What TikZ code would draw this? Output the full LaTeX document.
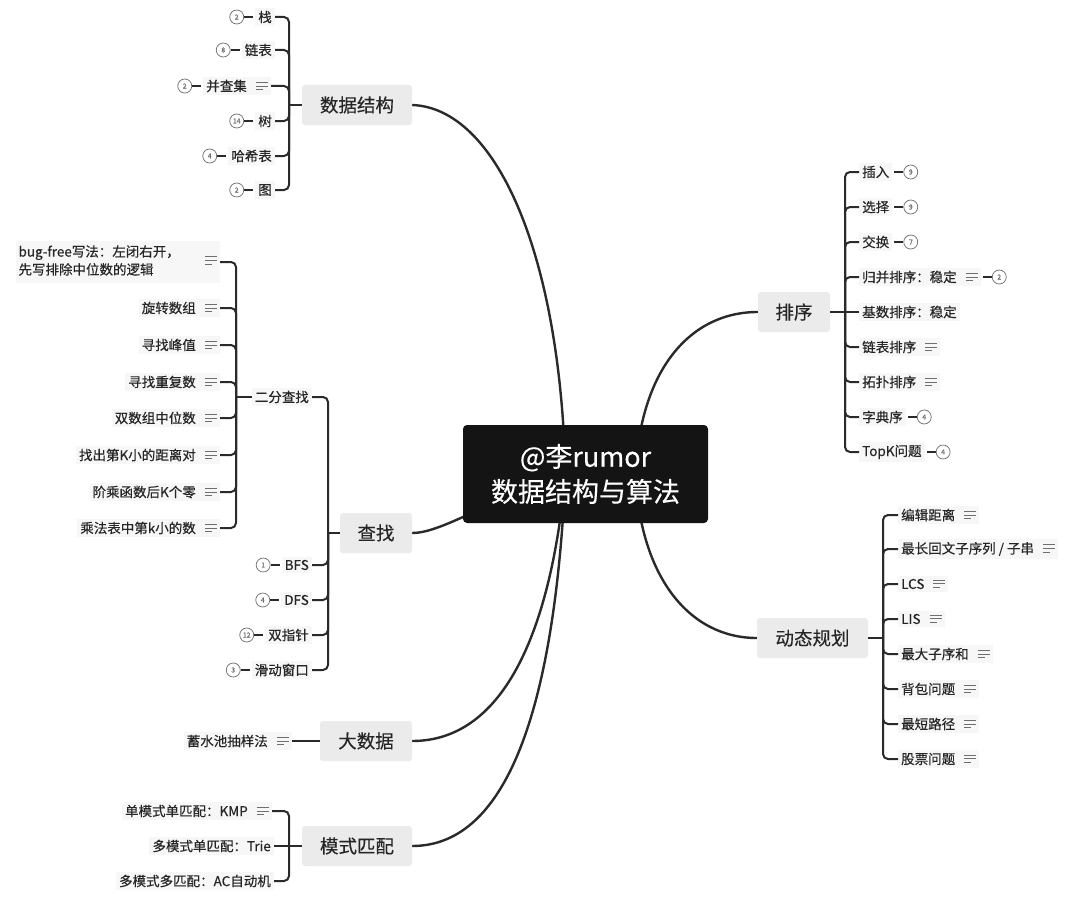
\documentclass[tikz,border=0pt]{standalone}
\usepackage{fontspec}
\setmainfont{Noto Sans CJK SC}[FakeBold=0.35]
\usetikzlibrary{positioning,backgrounds}
\definecolor{linec}{HTML}{2A2A2A}
\definecolor{topicfill}{HTML}{EBEBEB}
\definecolor{leaffill}{HTML}{F7F7F7}
\definecolor{iconc}{HTML}{6E6E6E}
\definecolor{centerfill}{HTML}{141414}
\definecolor{txt}{HTML}{262626}
\newcommand\noteicon{\hspace{9pt}\raisebox{1pt}{\color{iconc}\vbox{\hrule width 12pt height 1pt\vskip 2.6pt\hrule width 12pt height 1pt\vskip 2.6pt\hrule width 7pt height 1pt}}}
\begin{document}
\begin{tikzpicture}[x=1pt,y=-1pt,
  trunk/.style={draw=linec, line width=2.4pt, line cap=round},
  branch/.style={draw=linec, line width=2pt, rounded corners=5pt},
  badgeline/.style={draw=linec, line width=2pt, shorten >=2pt},
  topic/.style={fill=topicfill, rounded corners=3pt, minimum height=40pt, font=\fontsize{18.5}{20}\selectfont, text=txt, inner sep=0pt},
  centernode/.style={fill=centerfill, rounded corners=4pt, minimum width=245pt, minimum height=98pt, font=\fontsize{27}{35}\selectfont, text=white, align=center, inner sep=0pt},
  leafL/.style={anchor=east, font=\fontsize{13.5}{18}\selectfont, text=txt, inner xsep=3pt, inner ysep=3pt, fill=leaffill},
  leafR/.style={anchor=west, font=\fontsize{13.5}{18}\selectfont, text=txt, inner xsep=3pt, inner ysep=3pt, fill=leaffill},
  badge/.style={circle, draw=iconc, line width=0.7pt, minimum size=14pt, inner sep=0pt, font=\fontsize{7}{7}\selectfont, text=iconc, fill=white}
]
\useasboundingbox (0,0) rectangle (1080,899);

% center
\node[centernode] (c) at (585.5,474) {@李rumor\\数据结构与算法};
\coordinate (cL) at ([xshift=-20pt]c.center);
\coordinate (cR) at ([xshift=50pt]c.center);

% main topics
\node[topic, minimum width=110pt] (ds) at (357,105) {数据结构};
\node[topic, minimum width=72pt] (so) at (794,312) {排序};
\node[topic, minimum width=72pt] (cf) at (376,533) {查找};
\node[topic, minimum width=111pt] (dp) at (812.5,638) {动态规划};
\node[topic, minimum width=92pt] (bd) at (366,741) {大数据};
\node[topic, minimum width=110pt] (ms) at (357,846) {模式匹配};

% background and main curves
\begin{scope}[on background layer]
\fill[white] (0,0) rectangle (1080,899);
\draw[trunk] (ds.east) .. controls (495,108) and (560,250) .. (cL);
\draw[trunk] (so.west) .. controls (690,312) and (640,370) .. (cR);
\draw[trunk] (dp.west) .. controls (690,638) and (640,578) .. (cR);
\draw[trunk] (cf.east) .. controls (440,533) and (480,505) .. (cL);
\draw[trunk] (bd.east) .. controls (500,741) and (550,640) .. (cL);
\draw[trunk] (ms.east) .. controls (510,846) and (555,700) .. (cL);
\end{scope}

% ---------- data structures
\node[leafL] (ds1) at (275,17) {栈};
\node[leafL] (ds2) at (275,50) {链表};
\node[leafL] (ds3) at (271,86) {并查集\noteicon};
\node[leafL] (ds4) at (275,121) {树};
\node[leafL] (ds5) at (275,156) {哈希表};
\node[leafL] (ds6) at (275,190) {图};
\node[badge, left=11pt of ds1] (ds1b) {2};
\node[badge, left=11pt of ds2] (ds2b) {8};
\node[badge, left=11pt of ds3] (ds3b) {2};
\node[badge, left=11pt of ds4] (ds4b) {14};
\node[badge, left=11pt of ds5] (ds5b) {4};
\node[badge, left=11pt of ds6] (ds6b) {2};
\foreach \i in {1,...,6}{\draw[badgeline] (ds\i b.east) -- (ds\i.west);}
\coordinate (dsbar) at (289,105);
\draw[branch] (ds.west) -- (dsbar);
\foreach \i in {1,...,6}{\draw[branch] (dsbar) |- (ds\i.east);}

% ---------- sorting
\node[leafR] (so1) at (859,172) {插入};
\node[leafR] (so2) at (859,207) {选择};
\node[leafR] (so3) at (859,242) {交换};
\node[leafR] (so4) at (859,277) {归并排序：稳定\noteicon};
\node[leafR] (so5) at (859,312) {基数排序：稳定};
\node[leafR] (so6) at (859,347) {链表排序\noteicon};
\node[leafR] (so7) at (859,382) {拓扑排序\noteicon};
\node[leafR] (so8) at (859,417) {字典序};
\node[leafR] (so9) at (859,452) {TopK问题};
\node[badge, right=11pt of so1] (so1b) {9};
\node[badge, right=11pt of so2] (so2b) {9};
\node[badge, right=11pt of so3] (so3b) {7};
\node[badge, right=11pt of so4] (so4b) {2};
\node[badge, right=11pt of so8] (so8b) {4};
\node[badge, right=11pt of so9] (so9b) {4};
\foreach \i in {1,2,3,4,8,9}{\draw[badgeline] (so\i b.west) -- (so\i.east);}
\coordinate (sobar) at (845,312);
\draw[branch] (so.east) -- (sobar);
\foreach \i in {1,2,3,4,6,7,8,9}{\draw[branch] (sobar) |- (so\i.west);}
\draw[branch] (sobar) -- (so5.west);

% ---------- search
\node[leafL] (cf1) at (312,397) {二分查找};
\node[leafL] (cf2) at (312,565) {BFS};
\node[leafL] (cf3) at (312,600) {DFS};
\node[leafL] (cf4) at (312,635) {双指针};
\node[leafL] (cf5) at (312,670) {滑动窗口};
\node[badge, left=11pt of cf2] (cf2b) {1};
\node[badge, left=11pt of cf3] (cf3b) {4};
\node[badge, left=11pt of cf4] (cf4b) {12};
\node[badge, left=11pt of cf5] (cf5b) {3};
\foreach \i in {2,...,5}{\draw[badgeline] (cf\i b.east) -- (cf\i.west);}
\coordinate (cfbar) at (328,533);
\draw[branch] (cf.west) -- (cfbar);
\foreach \i in {1,...,5}{\draw[branch] (cfbar) |- (cf\i.east);}

% binary search children
\node[leafL] (bs1) at (220,262) {\begin{tabular}{@{}l@{}}bug-free写法：左闭右开，\\先写排除中位数的逻辑\end{tabular}\hspace{16pt}\noteicon};
\node[leafL] (bs2) at (220,308) {旋转数组\noteicon};
\node[leafL] (bs3) at (220,345) {寻找峰值\noteicon};
\node[leafL] (bs4) at (220,382) {寻找重复数\noteicon};
\node[leafL] (bs5) at (220,418) {双数组中位数\noteicon};
\node[leafL] (bs6) at (220,455) {找出第K小的距离对\noteicon};
\node[leafL] (bs7) at (220,492) {阶乘函数后K个零\noteicon};
\node[leafL] (bs8) at (220,528) {乘法表中第k小的数\noteicon};
\coordinate (bsbar) at (236,397);
\draw[branch] (cf1.west) -- (bsbar);
\foreach \i in {1,...,8}{\draw[branch] (bsbar) |- (bs\i.east);}

% ---------- big data
\node[leafL] (bd1) at (292,741) {蓄水池抽样法\noteicon};
\draw[branch] (bd.west) -- (bd1.east);

% ---------- pattern matching
\node[leafL] (ms1) at (272,811) {单模式单匹配：KMP\noteicon};
\node[leafL] (ms2) at (274,846) {多模式单匹配：Trie};
\node[leafL] (ms3) at (274,881) {多模式多匹配：AC自动机};
\coordinate (msbar) at (289,846);
\draw[branch] (ms.west) -- (msbar);
\draw[branch] (msbar) |- (ms1.east);
\draw[branch] (msbar) -- (ms2.east);
\draw[branch] (msbar) |- (ms3.east);

% ---------- dynamic programming
\node[leafR] (dp1) at (898,515) {编辑距离\noteicon};
\node[leafR] (dp2) at (898,549) {最长回文子序列 / 子串\noteicon};
\node[leafR] (dp3) at (898,584) {LCS\noteicon};
\node[leafR] (dp4) at (898,619) {LIS\noteicon};
\node[leafR] (dp5) at (898,654) {最大子序和\noteicon};
\node[leafR] (dp6) at (898,689) {背包问题\noteicon};
\node[leafR] (dp7) at (898,724) {最短路径\noteicon};
\node[leafR] (dp8) at (898,759) {股票问题\noteicon};
\coordinate (dpbar) at (883,638);
\draw[branch] (dp.east) -- (dpbar);
\foreach \i in {1,...,8}{\draw[branch] (dpbar) |- (dp\i.west);}
\end{tikzpicture}
\end{document}
